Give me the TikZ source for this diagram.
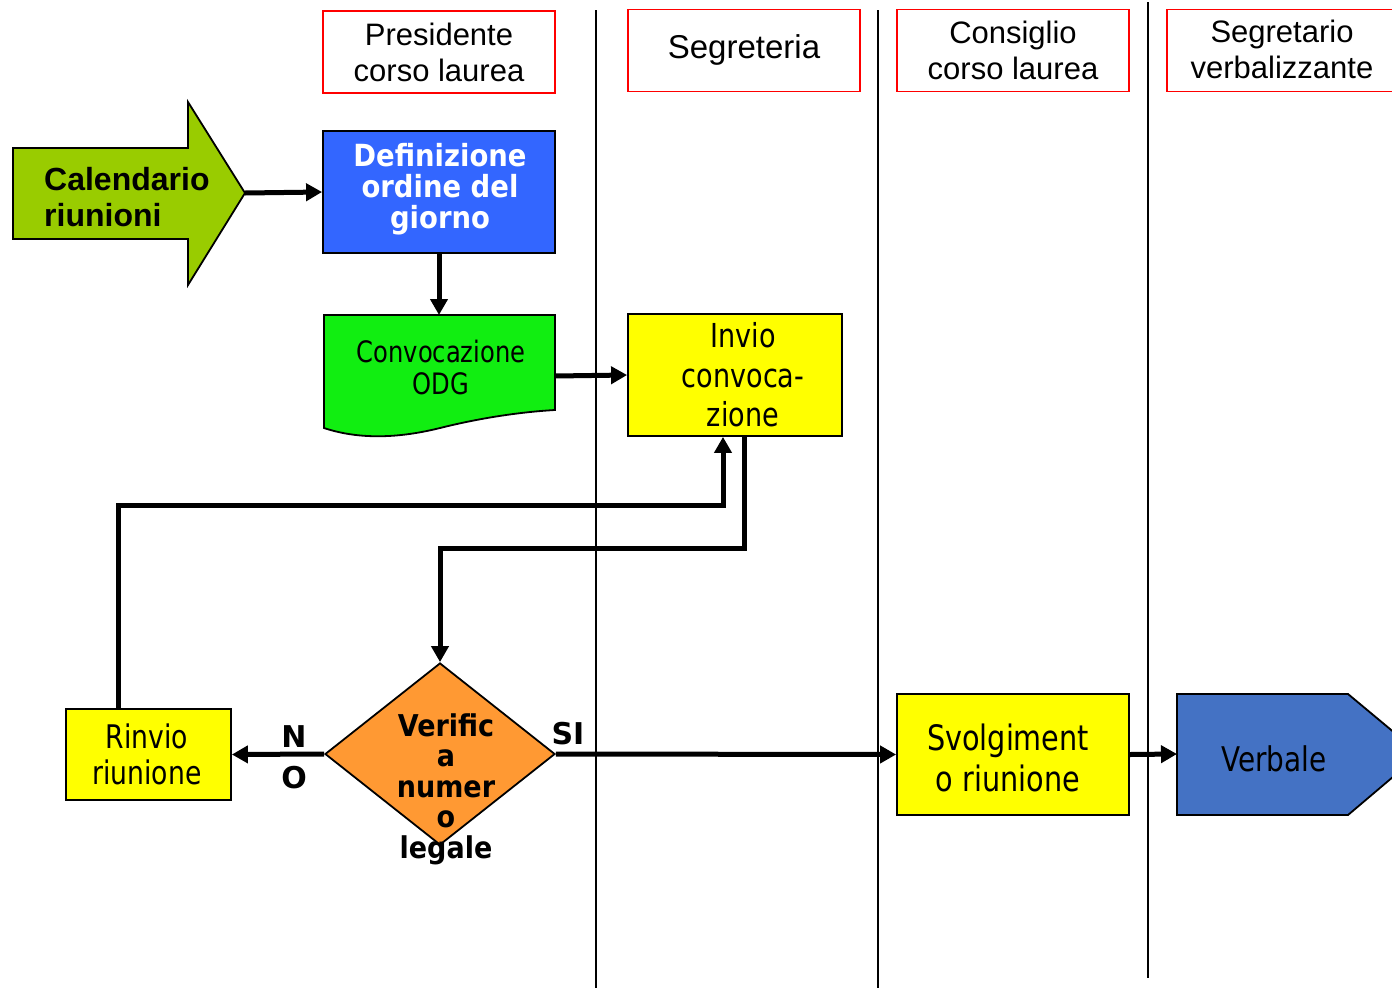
\documentclass[tikz,border=0pt]{standalone}
\usepackage{fontspec}
\setmainfont{DejaVu Sans}
\newfontfamily\arial{Liberation Sans}
\newfontfamily\verd{DejaVu Sans}
\newfontfamily\tah[FakeStretch=0.82]{DejaVu Sans}
\newfontfamily\tahb[FakeStretch=0.9]{DejaVu Sans Bold}
\usetikzlibrary{arrows.meta,shapes.geometric,calc}
\definecolor{calgreen}{HTML}{99CC00}
\definecolor{defblue}{HTML}{3366FF}
\definecolor{docgreen}{HTML}{11EE11}
\definecolor{boxyellow}{HTML}{FFFF00}
\definecolor{dorange}{HTML}{FF9933}
\definecolor{verblue}{HTML}{4472C4}
\tikzset{
  conn/.style={line width=5pt,-{Triangle[length=16pt,width=17pt]}},
  lane/.style={line width=2pt},
  hdr/.style={draw=red,line width=1.8pt,minimum width=232pt,minimum height=82pt,inner sep=0pt,align=center,font=\arial\fontsize{31}{36}\selectfont},
  box/.style={draw=black,line width=1.8pt,inner sep=0pt},
  txt/.style={align=center,inner sep=0pt},
}
\begin{document}
\begin{tikzpicture}[x=1pt,y=-1pt]
\useasboundingbox (0,0) rectangle (1392,991);
% lanes
\draw[lane] (596,10) -- (596,988);
\draw[lane] (878,10) -- (878,988);
\draw[lane] (1148,2) -- (1148,978);
% headers
\node[hdr] (h1) at (439,52) {Presidente\\corso laurea};
\node[hdr] (h2) at (744,50.5) {};
\node[txt,font=\arial\fontsize{33}{38}\selectfont] (h2t) at (744,50) {Segreteria};
\node[hdr] (h3) at (1013,50.5) {Consiglio\\corso laurea};
\node[hdr] (h4) at (1283,50.5) {};
\node[txt,font=\arial\fontsize{31}{36}\selectfont] (h4t) at (1282,49) {Segretario\\verbalizzante};
% Calendario arrow
\draw[box,fill=calgreen] (13,148) -- (188,148) -- (188,102) -- (245,193) -- (188,285) -- (188,239) -- (13,239) -- cycle;
\coordinate (cal) at (245,193);
\node[txt,align=left,anchor=west,font=\arial\bfseries\fontsize{32}{36}\selectfont] (calt) at (44,197) {Calendario\\riunioni};
% Definizione
\node[box,fill=defblue,minimum width=232pt,minimum height=122pt] (def) at (439,192) {};
\node[txt,text=white,font=\tahb\fontsize{30.5}{31}\selectfont] (deft) at (440,189) {Definizione\\ordine del\\giorno};
% Convocazione document
\draw[box,fill=docgreen] (324,315) -- (555,315) -- (555,410) .. controls (520,412) and (480,418) .. (440,428) .. controls (400,438) and (360,440) .. (324,428) -- cycle;
\coordinate (convtop) at (439,315);
\coordinate (convR) at (555,376);
\node[txt,font=\tah\fontsize{29.5}{32}\selectfont] (convt) at (441,367) {Convocazione\\ODG};
% Invio
\node[box,fill=boxyellow,minimum width=214pt,minimum height=122pt] (inv) at (735,375) {};
\node[txt,font=\tah\fontsize{33}{39.5}\selectfont] (invt) at (743,375) {Invio\\convoca-\\zione};
% Diamond
\node[box,shape=diamond,fill=dorange,minimum width=230pt,minimum height=182pt] (ver) at (440,754) {};
\node[txt,font=\tahb\fontsize{30}{30.5}\selectfont] (vert) at (446,789) {Verific\\a\\numer\\o\\legale};
% Rinvio
\node[box,fill=boxyellow,minimum width=165pt,minimum height=91pt] (rin) at (148.5,754.5) {};
\node[txt,font=\tah\fontsize{32.5}{36}\selectfont] (rint) at (147,754) {Rinvio\\riunione};
% Svolgimento
\node[box,fill=boxyellow,minimum width=232pt,minimum height=121pt] (svo) at (1013,754.5) {};
\node[txt,font=\tah\fontsize{35}{41}\selectfont] (svot) at (1008,758) {Svolgiment\\o riunione};
% Verbale
\draw[box,fill=verblue] (1177,694) -- (1348,694) -- (1420,754) -- (1348,815) -- (1177,815) -- cycle;
\coordinate (verbW) at (1177,754);
\node[txt,font=\tah\fontsize{34}{34}\selectfont] (verbt) at (1274,759) {Verbale};
% labels
\node[txt,font=\verd\bfseries\fontsize{30}{34}\selectfont] (lN) at (294,737) {N};
\node[txt,font=\verd\bfseries\fontsize{30}{34}\selectfont] (lO) at (294,778) {O};
\node[txt,font=\verd\bfseries\fontsize{30}{34}\selectfont] (lSI) at (568,734) {SI};
% connectors
\draw[conn] (cal) -- (def.west);
\draw[conn] (def.south) -- (convtop);
\draw[conn] (convR) -- (inv.west);
\draw[conn] ([xshift=9pt]inv.south) -- ++(0,112) -| (ver.north);
\draw[conn] ([xshift=-30pt]rin.north) -- ++(0,-203) -| ([xshift=-12pt]inv.south);
\draw[conn] (ver.west) -- (rin.east);
\draw[conn] (ver.east) -- (svo.west);
\draw[conn] (svo.east) -- (verbW);
\end{tikzpicture}
\end{document}
